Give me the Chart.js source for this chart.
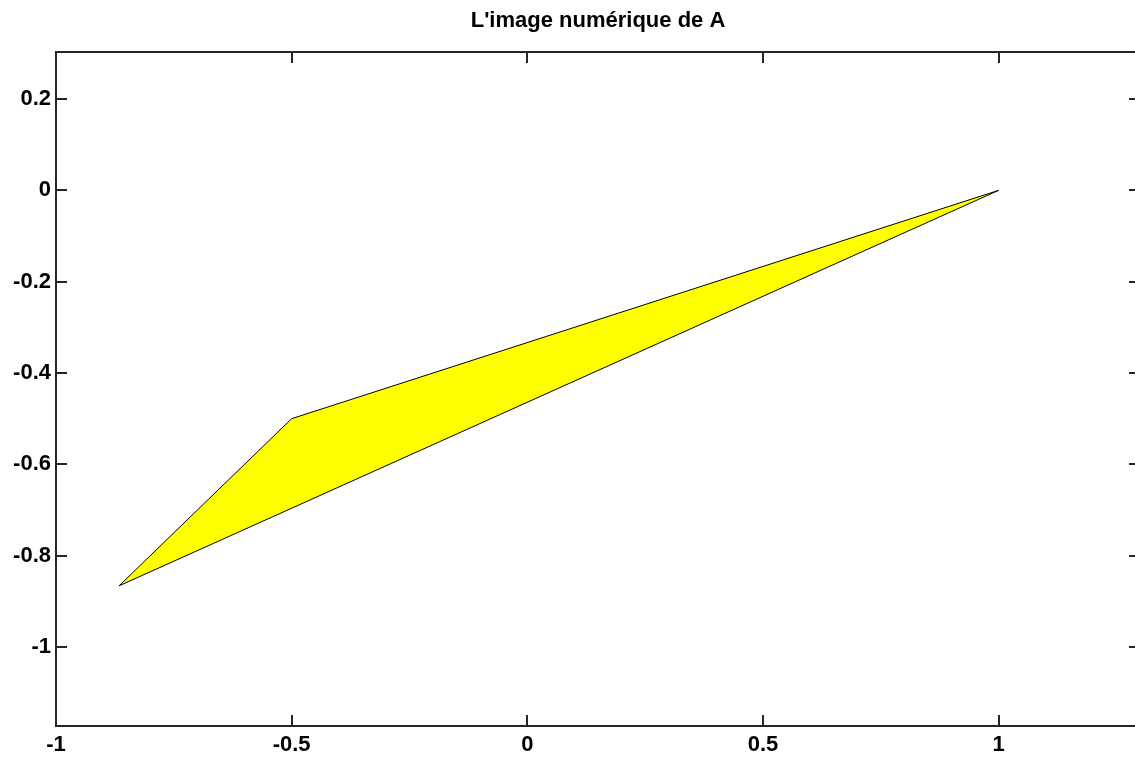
<!DOCTYPE html>
<html>
<head>
<meta charset="utf-8">
<script src="https://cdn.jsdelivr.net/npm/chart.js@4/dist/chart.umd.min.js"></script>
<style>
  html, body { margin: 0; padding: 0; background: #ffffff; overflow: hidden; }
  #c { display: block; }
</style>
</head>
<body>
<canvas id="c" width="1141" height="758"></canvas>
<script>
// Polygon vertices (closed)
const verticesX = [1, -0.5, -0.866, 1];
const verticesY = [0, -0.5, -0.866, 0];
// Tick labels
const xTicks = [-1, -0.5, 0, 0.5, 1];
const yTicks = [0.2, 0, -0.2, -0.4, -0.6, -0.8, -1];
const titleText = "L'image numérique de A";

const points = verticesX.map((x, i) => ({ x: x, y: verticesY[i] }));

const FONT = "'Liberation Sans', Arial, Helvetica, sans-serif";

const boxPlugin = {
  id: 'matlabBox',
  afterDraw(chart) {
    const ctx = chart.ctx;
    const a = chart.chartArea;
    const xs = chart.scales.x, ys = chart.scales.y;
    const tl = 11;
    ctx.save();
    ctx.strokeStyle = '#262626';
    ctx.lineWidth = 2;
    ctx.strokeRect(a.left, a.top, a.right - a.left, a.bottom - a.top);
    ctx.lineWidth = 2;
    ctx.beginPath();
    xTicks.forEach(v => {
      const px = Math.round(xs.getPixelForValue(v));
      ctx.moveTo(px, a.bottom); ctx.lineTo(px, a.bottom - tl);
      ctx.moveTo(px, a.top); ctx.lineTo(px, a.top + tl);
    });
    yTicks.forEach(v => {
      const py = Math.round(ys.getPixelForValue(v));
      ctx.moveTo(a.left, py); ctx.lineTo(a.left + tl, py);
      ctx.moveTo(a.right, py); ctx.lineTo(a.right - tl, py);
    });
    ctx.stroke();
    ctx.restore();
  }
};

new Chart(document.getElementById('c'), {
  type: 'scatter',
  data: {
    datasets: [{
      data: points,
      showLine: true,
      fill: 'shape',
      backgroundColor: '#ffff00',
      borderColor: '#000000',
      borderWidth: 1,
      pointRadius: 0,
      tension: 0
    }]
  },
  options: {
    responsive: false,
    devicePixelRatio: 1,
    animation: false,
    layout: { padding: { right: 1, left: 0, top: 0, bottom: 0 } },
    plugins: {
      legend: { display: false },
      tooltip: { enabled: false },
      title: {
        display: true,
        fullSize: false,
        text: titleText,
        color: '#000000',
        font: { family: FONT, size: 22, weight: 'bold', lineHeight: 1.2 },
        padding: { top: 8, bottom: 17.6 }
      }
    },
    scales: {
      x: {
        type: 'linear',
        min: -1,
        max: 1.3,
        grid: { display: false, drawTicks: false },
        border: { display: false },
        afterBuildTicks: s => { s.ticks = xTicks.map(v => ({ value: v })); },
        afterFit: s => { s.height = 32; },
        ticks: {
          color: '#000000',
          padding: 6,
          maxRotation: 0,
          autoSkip: false,
          font: { family: FONT, size: 22, weight: 'bold' },
          callback: v => String(v)
        }
      },
      y: {
        type: 'linear',
        min: -1.173,
        max: 0.303,
        grid: { display: false, drawTicks: false },
        border: { display: false },
        afterBuildTicks: s => { s.ticks = yTicks.map(v => ({ value: v })); },
        afterFit: s => { s.width = 56; },
        ticks: {
          color: '#000000',
          padding: 5,
          autoSkip: false,
          font: { family: FONT, size: 22, weight: 'bold' },
          callback: v => String(v)
        }
      }
    }
  },
  plugins: [boxPlugin]
});
</script>
</body>
</html>
